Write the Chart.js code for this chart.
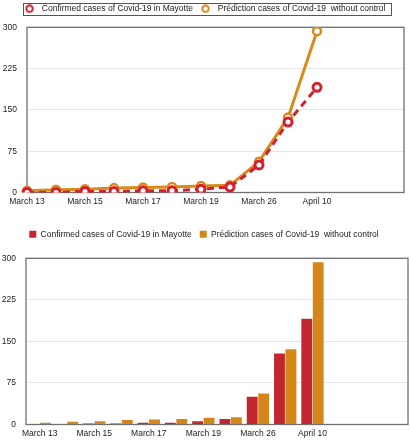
<!DOCTYPE html>
<html>
<head>
<meta charset="utf-8">
<script src="https://cdn.jsdelivr.net/npm/chart.js@4"></script>
<style>
html, body { margin: 0; padding: 0; background: #fff; }
#top { position: absolute; left: 0; top: 0; width: 411px; height: 215px; }
#bottom { position: absolute; left: 0; top: 222px; width: 411px; height: 218px; }
</style>
</head>
<body>
<div id="top"><canvas id="lineChart" width="411" height="215"></canvas></div>
<div id="bottom"><canvas id="barChart" width="411" height="218"></canvas></div>
<script>
// chart data
const categories = ['March 13', '', 'March 15', '', 'March 17', '', 'March 19', '', 'March 26', '', 'April 10', '', '', ''];
const confirmedCases = [0, 0, 2, 2, 3, 3, 6, 10, 50, 128, 191];
const predictedCases = [3, 5, 6, 8, 9, 10, 12, 13, 56, 136, 293];
const yTicks = [0, 75, 150, 225, 300];
const seriesNames = ['Confirmed cases of Covid-19 in Mayotte', 'Prédiction cases of Covid-19  without control'];

const RED = '#d41f2e';
const ORANGE = '#d98a1c';
const RED_BAR = '#c2272f';
const ORANGE_BAR = '#d4861b';

Chart.defaults.font.family = '"Liberation Sans", Arial, sans-serif';
Chart.defaults.font.size = 8.5;
Chart.defaults.color = '#222';

// small ring used as legend marker in the line chart
function ringMarker(color) {
	const c = document.createElement('canvas');
	c.width = 9;
	c.height = 9;
	const g = c.getContext('2d');
	g.strokeStyle = color;
	g.lineWidth = 2;
	g.beginPath();
	g.arc(4.5, 4.5, 3.2, 0, Math.PI * 2);
	g.stroke();
	return c;
}

// fixes the legend height so the plot starts where it should
const legendSpace = {
	id: 'legendSpace',
	beforeInit(chart, args, opts) {
		const legend = chart.legend;
		const fit = legend.fit;
		legend.fit = function () {
			fit.call(this);
			this.height = opts.height;
		};
	}
};

// box around the plot area, and optional box around the legend
const frame = {
	id: 'frame',
	beforeDatasetsDraw(chart) {
		const {ctx, chartArea: a} = chart;
		ctx.save();
		ctx.strokeStyle = '#707070';
		ctx.lineWidth = 1.3;
		ctx.strokeRect(a.left, a.top, a.right - a.left, a.bottom - a.top);
		ctx.restore();
	},
	afterDraw(chart, args, opts) {
		if (!opts.legendBox) return;
		const hb = chart.legend.legendHitBoxes;
		const first = hb[0], last = hb[hb.length - 1];
		const ctx = chart.ctx;
		ctx.save();
		ctx.strokeStyle = '#555';
		ctx.lineWidth = 1;
		const x0 = Math.round(first.left + 1) + 0.5;
		const x1 = Math.round(last.left + last.width + 6) + 0.5;
		const y0 = Math.round(first.top - 1.5) + 0.5;
		const y1 = Math.round(first.top + first.height + 1.5) + 0.5;
		ctx.strokeRect(x0, y0, x1 - x0, y1 - y0);
		ctx.restore();
	}
};

function yScale(width) {
	return {
		min: 0,
		max: 300,
		afterBuildTicks: s => { s.ticks = yTicks.map(v => ({value: v})); },
		afterFit: s => { s.width = width; },
		ticks: {padding: 10},
		grid: {color: '#e6e6e6', drawTicks: false},
		border: {display: false}
	};
}

function xScale(height) {
	return {
		afterFit: s => { s.height = height; },
		ticks: {autoSkip: false, maxRotation: 0, padding: 4},
		grid: {display: false, drawTicks: false},
		border: {display: false}
	};
}

new Chart(document.getElementById('lineChart'), {
	type: 'line',
	data: {
		labels: categories,
		datasets: [{
			label: seriesNames[0],
			data: confirmedCases,
			borderColor: RED,
			borderWidth: 3,
			borderDash: [7, 5],
			pointRadius: 4,
			pointBorderWidth: 3,
			pointBackgroundColor: '#fff',
			pointBorderColor: RED,
			tension: 0
		}, {
			label: seriesNames[1],
			data: predictedCases,
			borderColor: ORANGE,
			borderWidth: 3,
			pointRadius: 4,
			pointBorderWidth: 2.5,
			pointBackgroundColor: '#fff',
			pointBorderColor: ORANGE,
			tension: 0
		}]
	},
	options: {
		responsive: false,
		animation: false,
		layout: {padding: {top: 0, right: 4, bottom: 0, left: 0}},
		scales: {x: xScale(22.5), y: yScale(27)},
		plugins: {
			tooltip: {enabled: false},
			legendSpace: {height: 27.3},
			frame: {legendBox: true},
			legend: {
				labels: {
					usePointStyle: true,
					pointStyleWidth: 16,
					padding: 4.5,
					generateLabels(chart) {
						const items = Chart.defaults.plugins.legend.labels.generateLabels(chart);
						items.forEach((it, i) => { it.pointStyle = ringMarker(i === 0 ? RED : ORANGE); });
						return items;
					}
				}
			}
		}
	},
	plugins: [legendSpace, frame]
});

new Chart(document.getElementById('barChart'), {
	type: 'bar',
	data: {
		labels: categories,
		datasets: [{
			label: seriesNames[0],
			data: confirmedCases,
			backgroundColor: RED_BAR,
			categoryPercentage: 0.84,
			barPercentage: 0.95
		}, {
			label: seriesNames[1],
			data: predictedCases,
			backgroundColor: ORANGE_BAR,
			categoryPercentage: 0.84,
			barPercentage: 0.95
		}]
	},
	options: {
		responsive: false,
		animation: false,
		layout: {padding: {top: 0, right: 3, bottom: 0, left: 0}},
		scales: {x: xScale(15.5), y: yScale(26)},
		plugins: {
			tooltip: {enabled: false},
			legendSpace: {height: 36.3},
			frame: {legendBox: false},
			legend: {
				labels: {boxWidth: 7, boxHeight: 7, padding: 8}
			}
		}
	},
	plugins: [legendSpace, frame]
});
</script>
</body>
</html>
